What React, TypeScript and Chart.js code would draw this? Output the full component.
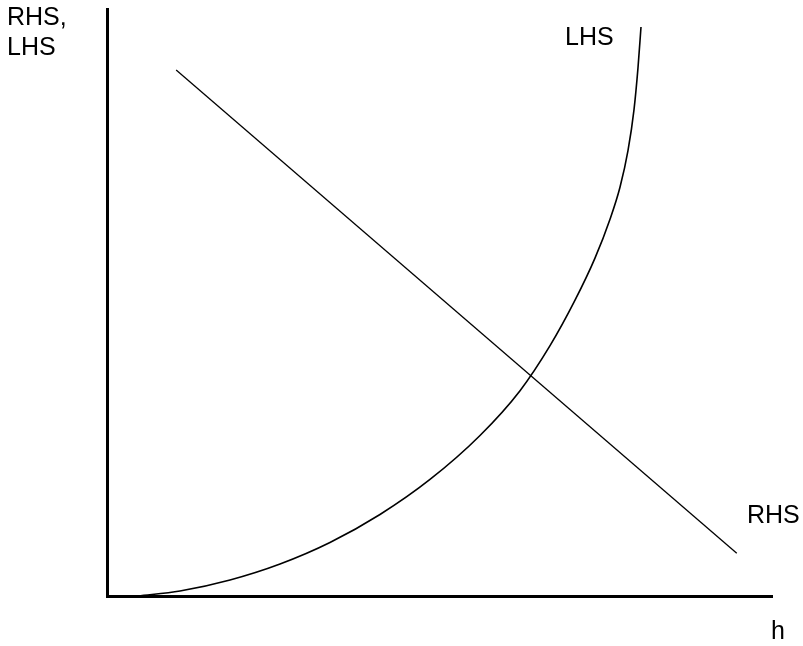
import { useEffect, useRef } from "react";
import { Chart, registerables } from "chart.js";

Chart.register(...registerables);

// RHS: straight downward-sloping line
const rhsH = [1.04, 9.47];
const rhsValues = [8.96, 0.73];

// LHS: convex, increasingly steep curve
const lhsH = [0.466, 1.098, 1.85, 2.602, 3.353, 4.105, 4.857, 5.609, 6.211, 6.662, 7.038, 7.338, 7.564, 7.714, 7.835, 7.925, 7.985, 8.03];
const lhsValues = [0.0, 0.085, 0.273, 0.545, 0.911, 1.388, 1.985, 2.734, 3.497, 4.264, 5.039, 5.755, 6.419, 6.964, 7.591, 8.286, 9.002, 9.693];

const axisMax = 10;

const FONT = '25px "Liberation Sans", Arial, sans-serif';

const textPlugin = {
  id: "labels",
  afterDraw(chart: any) {
    const ctx = chart.ctx;
    ctx.save();
    ctx.fillStyle = "#000";
    ctx.font = FONT;
    ctx.textBaseline = "alphabetic";
    ctx.textAlign = "left";
    ctx.fillText("RHS,", 7, 25);
    ctx.fillText("LHS", 7, 55);
    ctx.fillText("LHS", 565, 45);
    ctx.fillText("RHS", 747, 523);
    ctx.fillText("h", 771, 639);
    ctx.restore();
  },
};

export default function App() {
  const ref = useRef<HTMLCanvasElement>(null);
  useEffect(() => {
    if (!ref.current) return;
    const chart = new Chart(ref.current, {
      type: "line",
      data: {
        datasets: [
          {
            label: "RHS",
            data: rhsH.map((h, i) => ({ x: h, y: rhsValues[i] })),
            borderColor: "#000",
            borderWidth: 1.3,
            pointRadius: 0,
            tension: 0,
          },
          {
            label: "LHS",
            data: lhsH.map((h, i) => ({ x: h, y: lhsValues[i] })),
            borderColor: "#000",
            borderWidth: 1.6,
            pointRadius: 0,
            cubicInterpolationMode: "monotone",
          },
        ],
      },
      options: {
        responsive: false,
        animation: false,
        layout: { padding: { left: 107, top: 9, right: 31, bottom: 50 } },
        plugins: { legend: { display: false }, tooltip: { enabled: false } },
        scales: {
          x: {
            type: "linear",
            min: 0,
            max: axisMax,
            grid: { display: false },
            ticks: { display: false },
            border: { display: true, width: 3, color: "#000" },
            afterFit: (s: any) => {
              s.height = 0;
            },
          },
          y: {
            type: "linear",
            min: 0,
            max: axisMax,
            grid: { display: false },
            ticks: { display: false },
            border: { display: true, width: 3, color: "#000" },
            afterFit: (s: any) => {
              s.width = 0;
            },
          },
        },
      },
      plugins: [textPlugin],
    });
    return () => chart.destroy();
  }, []);
  return (
    <div style={{ position: "fixed", left: 0, top: 0, width: 803, height: 646, background: "#fff" }}>
      <canvas ref={ref} width={803} height={646} style={{ display: "block" }} />
    </div>
  );
}
